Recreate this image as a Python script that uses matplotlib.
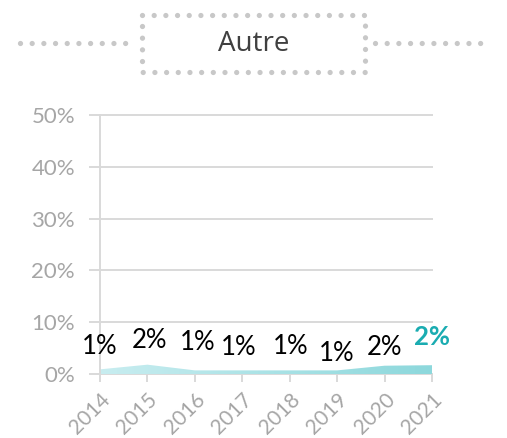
import matplotlib
matplotlib.use("Agg")
import matplotlib.pyplot as plt
import numpy as np
from matplotlib.lines import Line2D
from matplotlib.colors import LinearSegmentedColormap

years = [2014, 2015, 2016, 2017, 2018, 2019, 2020, 2021]
values = [0.9, 1.8, 0.7, 0.7, 0.7, 0.7, 1.6, 1.7]   # percent
labels = ["1%", "2%", "1%", "1%", "1%", "1%", "2%", "2%"]
yticks = [0, 10, 20, 30, 40, 50]
title = "Autre"

# layout of data labels (pixel offsets)
label_dx = [0, 2, 3, -4, 1, 0, 0, 0]
label_dy = [23, 24, 28, 23, 24, 17, 18, 28]

plt.rcParams['lines.scale_dashes'] = False
W, H = 507, 438
fig = plt.figure(figsize=(W / 100, H / 100), dpi=100)
ax = fig.add_axes([100 / W, 1 - 374 / H, (432 - 100) / W, (374 - 115) / H])
ax.set_xlim(years[0], years[-1])
ax.set_ylim(0, 50)

grid_c = "#d9d9d9"
for y in yticks:
    ax.axhline(y, color=grid_c, lw=1.4, zorder=1, clip_on=False)
for s in ["top", "right", "bottom"]:
    ax.spines[s].set_visible(False)
ax.spines["left"].set_color(grid_c)
ax.spines["left"].set_linewidth(1.4)

# gradient area
poly = ax.fill_between(years, 0, values, color="none", lw=0, zorder=2)
cmap = LinearSegmentedColormap.from_list("g", ["#c8edf0", "#8dd8dc"])
grad = np.linspace(0, 1, 256).reshape(1, -1)
im = ax.imshow(grad, cmap=cmap, aspect="auto", extent=[years[0], years[-1], 0, max(values)],
               zorder=2, origin="lower")
im.set_clip_path(poly.get_paths()[0], transform=ax.transData)

ax.set_yticks(yticks)
ax.set_yticklabels([f"{v}%" for v in yticks])
ax.set_xticks(years)
ax.set_xticklabels([str(y) for y in years])
ax.tick_params(axis="y", length=8, width=1.4, color=grid_c, labelcolor="#a6a6a6",
               labelsize=16, pad=10)
ax.tick_params(axis="x", length=6, width=1.4, color=grid_c, labelcolor="#a6a6a6",
               labelsize=15, pad=5)
for lab in ax.get_yticklabels() + ax.get_xticklabels():
    lab.set_family("Lato")
for lab in ax.get_xticklabels():
    lab.set_rotation(45)
    lab.set_ha("right")
    lab.set_va("top")
    lab.set_rotation_mode("anchor")

for i, (x, v, t) in enumerate(zip(years, values, labels)):
    last = i == len(years) - 1
    ax.annotate(t, (x, v), xytext=(label_dx[i], label_dy[i]), textcoords="offset pixels",
                ha="center", va="center", fontsize=18.5, family="Lato",
                color="#1aacb1" if last else "black",
                fontweight="bold" if last else "normal", zorder=5, annotation_clip=False)

# title box with dotted frame
dot_c = "#c8c8c8"
def dotted(xs, ys):
    fig.add_artist(Line2D(np.array(xs) / W, 1 - np.array(ys) / H, transform=fig.transFigure,
                          color=dot_c, lw=3.8, linestyle=(0, (0.01, 8.4)),
                          dash_capstyle="round", solid_capstyle="round"))
dotted([142, 365, 365, 142, 142], [15, 15, 72, 72, 15])
dotted([20, 134], [43, 43])
dotted([375, 490], [43, 43])
fig.text(253.5 / W, 1 - 44 / H, title, ha="center", va="center", fontsize=20,
         family="Open Sans", color="#404040")

fig.savefig("out.png", dpi=100)
